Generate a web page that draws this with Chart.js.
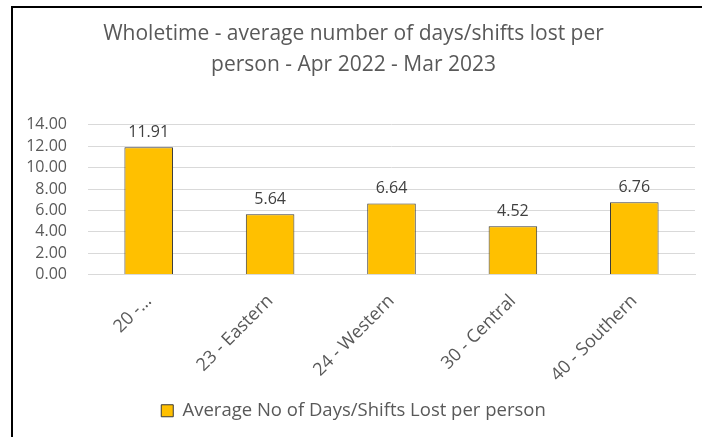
<!DOCTYPE html>
<html lang="en">
<head>
  <meta charset="UTF-8" />
  <title>Wholetime - average days/shifts lost per person</title>
  <script src="https://cdn.jsdelivr.net/npm/chart.js"></script>
  <style>
    html, body { margin: 0; padding: 0; background: #fff; }
    #frame {
      position: absolute; left: 11px; top: 6px; width: 691px; height: 431px;
      border-left: 2px solid #000; border-top: 2px solid #000;
      box-sizing: border-box;
    }
    #wrap { position: absolute; left: 12px; top: 7px; width: 690px; height: 430px; }
  </style>
</head>
<body>
  <div id="frame"></div>
  <div id="wrap"><canvas id="chart"></canvas></div>

  <script>
    const categories = ['20 -…', '23 - Eastern', '24 - Western', '30 - Central', '40 - Southern'];
    const avgDaysLost = [11.91, 5.64, 6.64, 4.52, 6.76];
    const seriesName = 'Average No of Days/Shifts Lost per person';
    const titleLines = ['Wholetime - average number of days/shifts lost per', 'person - Apr 2022 - Mar 2023'];

    const FONT = '"Open Sans", sans-serif';
    const GREY = '#595959';

    // etiquettes de valeur au-dessus des barres
    const valueLabels = {
      id: 'valueLabels',
      afterDatasetsDraw(chart) {
        const ctx = chart.ctx;
        const meta = chart.getDatasetMeta(0);
        ctx.save();
        ctx.font = '16px ' + FONT;
        ctx.fillStyle = '#404040';
        ctx.textAlign = 'center';
        ctx.textBaseline = 'bottom';
        meta.data.forEach((bar, i) => {
          ctx.fillText(avgDaysLost[i].toFixed(2), bar.x, bar.y - 7);
        });
        ctx.restore();
      }
    };

    new Chart(document.getElementById('chart'), {
      type: 'bar',
      data: {
        labels: categories,
        datasets: [{
          label: seriesName,
          data: avgDaysLost,
          backgroundColor: '#FFC000',
          borderColor: '#3a3a3a',
          borderWidth: 1,
          barPercentage: 0.8,
          categoryPercentage: 0.5
        }]
      },
      options: {
        responsive: true,
        maintainAspectRatio: false,
        animation: false,
        layout: { padding: { left: 0, right: 7, top: 0, bottom: 7 } },
        plugins: {
          title: {
            display: true,
            text: titleLines,
            color: GREY,
            font: { family: FONT, size: 21, weight: 'normal', lineHeight: 1.45 },
            padding: { top: 12, bottom: 45 }
          },
          legend: {
            position: 'bottom',
            labels: {
              color: GREY,
              font: { family: FONT, size: 18.5 },
              boxWidth: 12,
              boxHeight: 12,
              padding: 8
            }
          },
          tooltip: { enabled: false }
        },
        scales: {
          x: {
            grid: { display: false },
            border: { display: true, color: '#d9d9d9' },
            ticks: {
              color: GREY,
              font: { family: FONT, size: 18 },
              minRotation: 45,
              maxRotation: 45,
              padding: 8
            },
            afterFit(scale) { scale.height = 119; }
          },
          y: {
            min: 0,
            max: 14,
            grid: { color: '#d9d9d9', drawTicks: false },
            border: { display: false },
            ticks: {
              stepSize: 2,
              autoSkip: false,
              color: GREY,
              font: { family: FONT, size: 16, lineHeight: 1 },
              padding: 21,
              callback: v => v.toFixed(2)
            },
            afterFit(scale) { scale.width = 76; }
          }
        }
      },
      plugins: [valueLabels]
    });
  </script>
</body>
</html>
